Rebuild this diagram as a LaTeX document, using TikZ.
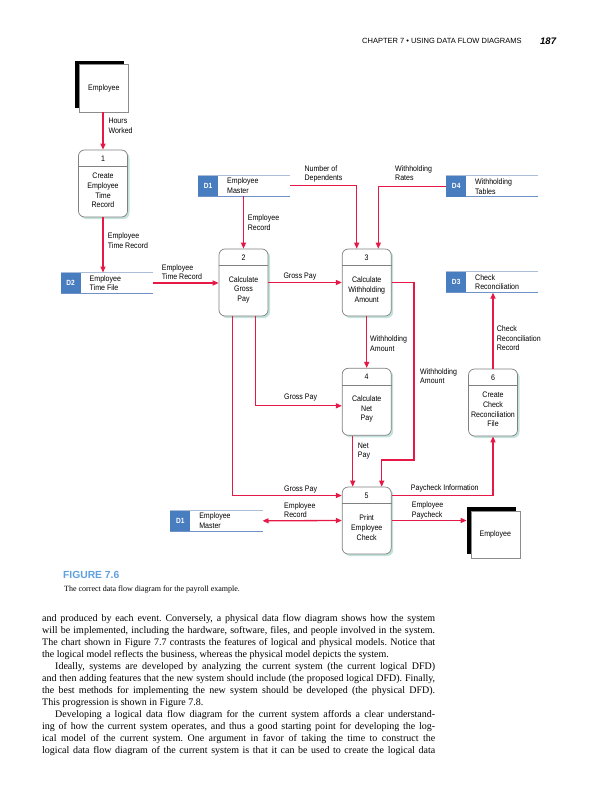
\documentclass[tikz,border=0pt]{standalone}
\usepackage{fontspec}
\setmainfont{Liberation Serif}
\newfontfamily\dfdfont[FakeStretch=0.88]{Liberation Sans}
\newfontfamily\headfont{Liberation Sans}
\usetikzlibrary{arrows.meta,shadows}
\definecolor{dfdred}{RGB}{230,25,70}
\definecolor{procshadow}{RGB}{196,226,220}
\definecolor{storeblue}{RGB}{72,125,192}
\definecolor{storetop}{RGB}{170,190,218}
\definecolor{storebot}{RGB}{110,145,200}
\definecolor{capblue}{RGB}{95,160,225}
\frenchspacing

\begin{document}
\begin{tikzpicture}[x=1pt,y=-1pt,
    flow/.style={draw=dfdred,line width=1.3pt,-{Triangle[length=6pt,width=5pt]}},
    flowboth/.style={flow,{Triangle[length=6pt,width=5pt]}-{Triangle[length=6pt,width=5pt]}},
    proc/.style={draw=black!50,line width=0.7pt,fill=white,rounded corners=6pt,minimum width=49pt,minimum height=67pt,inner sep=0pt,
        drop shadow={shadow xshift=2pt,shadow yshift=-2pt,fill=procshadow,opacity=1}},
    ent/.style={draw=black!45,line width=0.6pt,fill=white,minimum width=49pt,minimum height=47pt,inner sep=0pt,font=\dfdfont\fontsize{8}{9.7}\selectfont},
    entshadow/.style={fill=black,minimum width=49pt,minimum height=47pt,inner sep=0pt},
    store/.style={minimum width=92pt,minimum height=20.5pt,inner sep=0pt},
    idbox/.style={fill=storeblue,minimum width=20pt,minimum height=20.5pt,inner sep=0pt,text=white,font=\dfdfont\bfseries\fontsize{7.5}{9}\selectfont},
    lbl/.style={inner sep=0pt,align=left,anchor=north west,font=\dfdfont\fontsize{8}{9.7}\selectfont},
    ptext/.style={inner sep=0pt,align=center,font=\dfdfont\fontsize{8}{9.7}\selectfont},
    body/.style={inner sep=0pt,anchor=base west,font=\fontsize{10}{12}\selectfont}]
    \fill[white] (0,0) rectangle (600,800);
    \useasboundingbox (0,0) rectangle (600,800);

    \node[anchor=base west,inner sep=0pt,font=\headfont\fontsize{7.5}{9}\selectfont] (head) at (362,43.7) {CHAPTER 7 \textbullet\ USING DATA FLOW DIAGRAMS};
    \node[anchor=base west,inner sep=0pt,font=\headfont\bfseries\itshape\fontsize{9.5}{11}\selectfont] (page) at (540,44.5) {187};

    \node[entshadow] (e1s) at (99.8,84.3) {};
    \node[ent] (e1) at (103.8,88.3) {Employee};
    \node[entshadow] (e2s) at (491.3,530.5) {};
    \node[ent] (e2) at (495.3,534.5) {Employee};

    \foreach \n/\x/\y/\k/\t in {p1/103/183.5/1/{Create\\Employee\\Time\\Record},
        p2/243.5/282.5/2/{Calculate\\Gross\\Pay},
        p3/366.7/282.5/3/{Calculate\\Withholding\\Amount},
        p4/366.7/401.8/4/{Calculate\\Net\\Pay},
        p5/366.7/520.5/5/{Print\\Employee\\Check},
        p6/493/402.5/6/{Create\\Check\\Reconciliation\\File}} {
        \node[proc] (\n) at (\x,\y) {};
        \draw[black!50,line width=0.7pt] ([yshift=-17pt]\n.north west) -- ([yshift=-17pt]\n.north east);
        \node[ptext] (\n-num) at ([yshift=-9pt]\n.north) {\k};
        \node[ptext] (\n-txt) at ([yshift=-41pt]\n.north) {\t};
    }

    \foreach \n/\x/\y/\k/\t in {d1/244.2/185.8/D1/{Employee\\Master},
        d4/492.2/186.3/D4/{Withholding\\Tables},
        d3/492.2/282.2/D3/{Check\\Reconciliation},
        d2/106.7/283/D2/{Employee\\Time File},
        d1b/216.3/520.8/D1/{Employee\\Master}} {
        \node[store] (\n) at (\x,\y) {};
        \draw[storetop,line width=0.9pt] (\n.north west) -- (\n.north east);
        \draw[storebot,line width=1.3pt] (\n.south west) -- (\n.south east);
        \node[idbox,anchor=west] (\n-id) at (\n.west) {\k};
        \node[lbl,anchor=west] (\n-txt) at ([xshift=29pt]\n.west) {\t};
    }

    \coordinate (wa) at (414,460);
    \draw[flow] (p1.north |- e1.south) -- (p1.north);
    \draw[flow] (p1.south) -- (p1.south |- d2.north);
    \draw[flow] (d2.east) -- (d2.east -| p2.west);
    \draw[flow] (p2.north |- d1.south) -- (p2.north);
    \draw[flow] (d1.east) -| ([xshift=-10pt]p3.north);
    \draw[flow] (d4.west) -| ([xshift=11.6pt]p3.north);
    \draw[flow] (p2.east) -- (p3.west);
    \draw[flow] (p3.east) -| (wa) -| ([xshift=15pt]p5.north);
    \draw[flow] (p3.south) -- (p4.north);
    \draw[flow] ([xshift=12pt]p2.south) |- ([yshift=-4pt]p4.west);
    \draw[flow] ([xshift=-11pt]p2.south) |- ([yshift=25pt]p5.west);
    \draw[flow] ([xshift=-14pt]p4.south) -- ([xshift=-14pt]p5.north);
    \draw[flow] ([yshift=25pt]p5.east) -| (p6.south);
    \draw[flow] (p6.north) -- (p6.north |- d3.south);
    \draw[flowboth] (d1b.east) -- (p5.west);
    \draw[flow] (p5.east) -- (p5.east -| e2s.west);

    \node[lbl] (l1) at (108.3,118) {Hours\\Worked};
    \node[lbl] (l2) at (107.7,233) {Employee\\Time Record};
    \node[lbl] (l3) at (161.7,264) {Employee\\Time Record};
    \node[lbl] (l4) at (247.7,214.5) {Employee\\Record};
    \node[lbl] (l5) at (304.3,165.3) {Number of\\Dependents};
    \node[lbl] (l6) at (395,165.3) {Withholding\\Rates};
    \node[lbl] (l7) at (283.3,272.3) {Gross Pay};
    \node[lbl] (l8) at (370,335.5) {Withholding\\Amount};
    \node[lbl] (l9) at (420,368) {Withholding\\Amount};
    \node[lbl] (l10) at (496.7,325.5) {Check\\Reconciliation\\Record};
    \node[lbl] (l11) at (284,393.5) {Gross Pay};
    \node[lbl] (l12) at (357.7,442.3) {Net\\Pay};
    \node[lbl] (l13) at (284,485.3) {Gross Pay};
    \node[lbl] (l14) at (284,502) {Employee\\Record};
    \node[lbl] (l15) at (410.7,484.6) {Paycheck Information};
    \node[lbl] (l16) at (411.7,501.3) {Employee\\Paycheck};

    \node[anchor=base west,inner sep=0pt,text=capblue,font=\headfont\bfseries\fontsize{10.3}{12}\selectfont] (fig) at (63,578) {FIGURE 7.6};
    \node[anchor=base west,inner sep=0pt,font=\fontsize{8}{10}\selectfont] (cap) at (64,591.5) {The correct data flow diagram for the payroll example.};

    \foreach \a/\t [count=\i] in {
        s/{and produced by each event. Conversely, a physical data flow diagram shows how the system},
        s/{will be implemented, including the hardware, software, files, and people involved in the system.},
        s/{The chart shown in Figure 7.7 contrasts the features of logical and physical models. Notice that},
        l/{the logical model reflects the business, whereas the physical model depicts the system.},
        s/{\hspace*{13pt}Ideally, systems are developed by analyzing the current system (the current logical DFD)},
        s/{and then adding features that the new system should include (the proposed logical DFD). Finally,},
        s/{the best methods for implementing the new system should be developed (the physical DFD).},
        l/{This progression is shown in Figure 7.8.},
        s/{\hspace*{13pt}Developing a logical data flow diagram for the current system affords a clear understand-},
        s/{ing of how the current system operates, and thus a good starting point for developing the log-},
        s/{ical model of the current system. One argument in favor of taking the time to construct the},
        s/{logical data flow diagram of the current system is that it can be used to create the logical data}}
        \node[body] (b\i) at (42,609+12*\i) {\makebox[393pt][\a]{\t}};
\end{tikzpicture}
\end{document}
